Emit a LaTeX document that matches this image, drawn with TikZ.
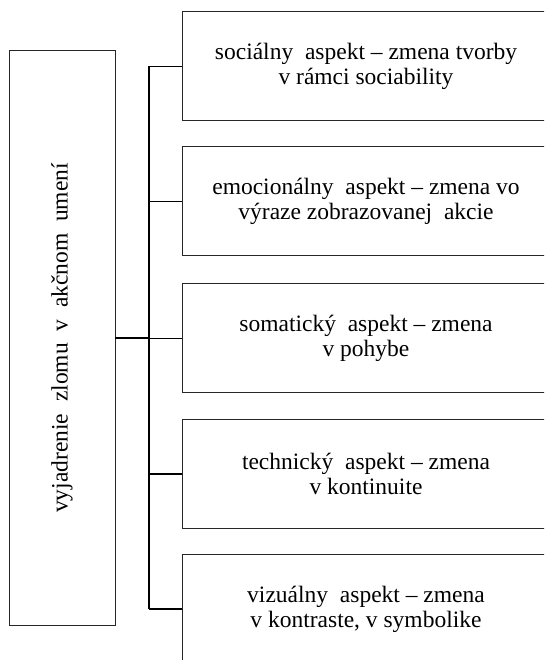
\documentclass[tikz,border=0pt]{standalone}
\usepackage{fontspec}
\setmainfont{Liberation Serif}
\begin{document}
\begin{tikzpicture}[x=1pt, y=-1pt, font=\rmfamily\fontsize{23.5}{25}\selectfont,
          aspbox/.style={draw=black!85, line width=0.9pt, align=center, minimum width=368pt, minimum height=109pt, inner sep=0pt},
          rootbox/.style={draw=black!85, line width=0.9pt, rotate=90, minimum width=575pt, minimum height=106pt, inner sep=0pt},
          thin link/.style={line width=0.8pt},
          bold link/.style={line width=2pt}]
        \useasboundingbox (0,0) rectangle (544,660);
        \clip (0,0) rectangle (544,660);
        \node[rootbox] (root) at (62,338) {vyjadrenie~ zlomu~ v~ akčnom~ umení};
        \node[aspbox] (soc) at (366,66) {sociálny~ aspekt -- zmena tvorby\\v rámci sociability};
        \node[aspbox] (emo) at (366,201) {emocionálny~ aspekt -- zmena vo\\výraze zobrazovanej~ akcie};
        \node[aspbox] (som) at (366,338) {somatický~ aspekt -- zmena\\v pohybe};
        \node[aspbox] (tech) at (366,474) {technický~ aspekt -- zmena\\v kontinuite};
        \node[aspbox] (viz) at (366,609) {vizuálny~ aspekt -- zmena\\v kontraste, v symbolike};
        \coordinate (spine) at (149,0);
        \draw[bold link] (soc.west -| spine) -- (viz.west -| spine);
        \draw[bold link] (root.south) -- (root.south -| spine);
        \draw[thin link] (soc.west -| spine) -- (soc.west);
        \draw[thin link] (emo.west -| spine) -- (emo.west);
        \draw[thin link] (som.west -| spine) -- (som.west);
        \draw[bold link] (tech.west -| spine) -- (tech.west);
        \draw[bold link] (viz.west -| spine) -- (viz.west);
      \end{tikzpicture}
\end{document}
